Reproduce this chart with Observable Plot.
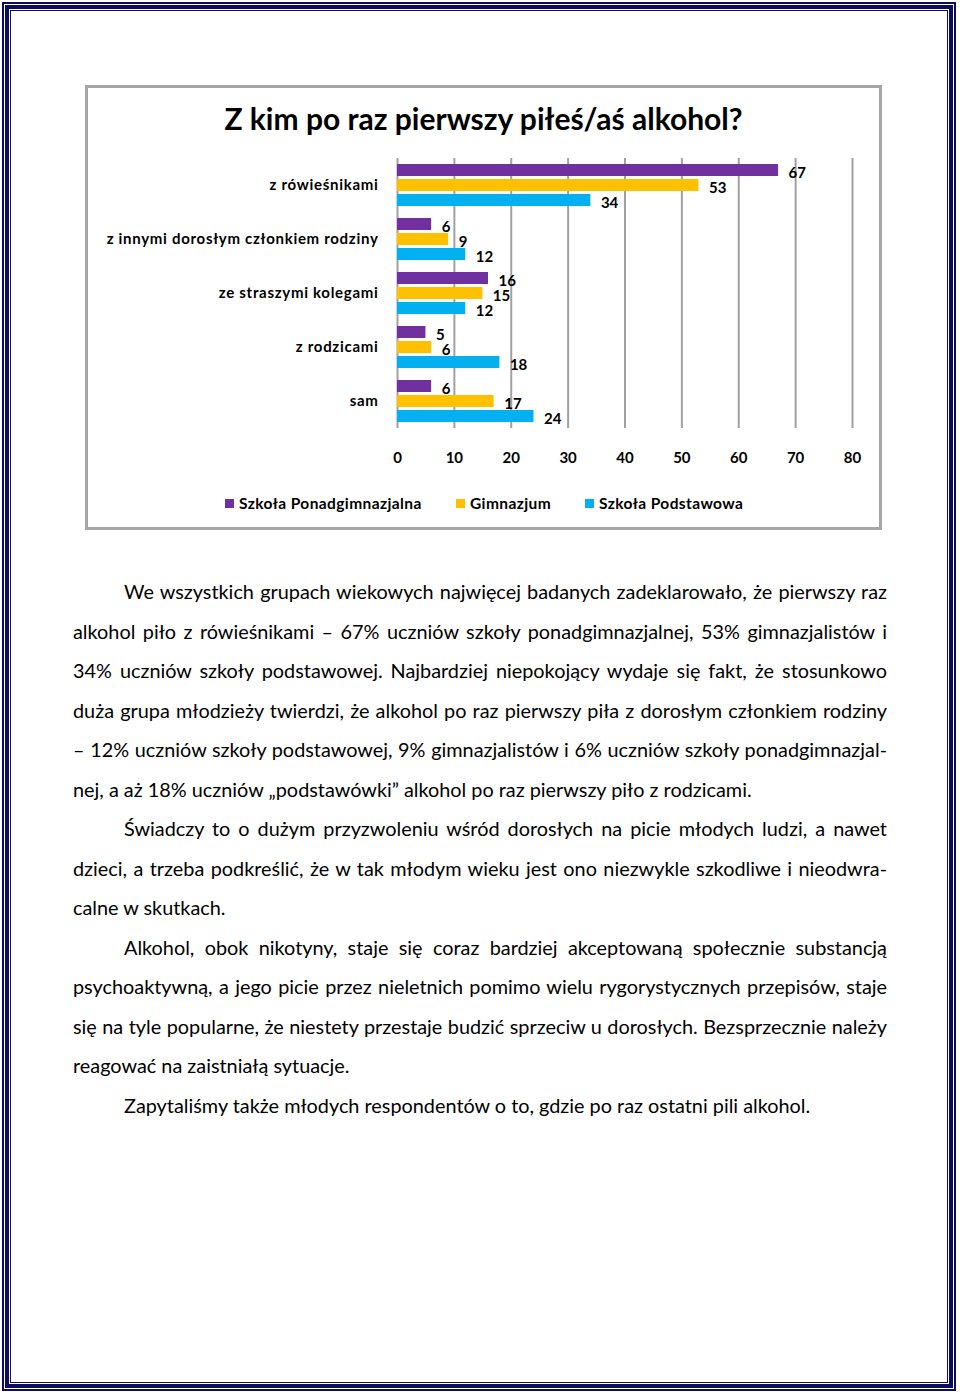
<!DOCTYPE html>
<html>
<head>
<meta charset="utf-8">
<script src="https://cdn.jsdelivr.net/npm/d3@7"></script>
<script src="https://cdn.jsdelivr.net/npm/@observablehq/plot@0.6"></script>
<style>
  html, body { margin: 0; padding: 0; background: #fff; }
  body { width: 960px; height: 1395px; position: relative; overflow: hidden; font-family: Lato, "Open Sans", sans-serif; color: #000; }
  .frame { position: absolute; box-sizing: border-box; border-style: solid; border-color: #0d0d5e; }
  #box { position: absolute; left: 85px; top: 85px; width: 797px; height: 445px; box-sizing: border-box; border: 3px solid #a6a6a6; }
  #title { position: absolute; left: 85px; width: 797px; top: 98px; text-align: center; font-size: 30px; font-weight: bold; line-height: 40px; }
  #chart { position: absolute; left: 88px; top: 140px; }
  #legend { position: absolute; left: 0; top: 493px; width: 960px; height: 20px; font-size: 15.5px; font-weight: bold; line-height: 20px; letter-spacing: 0.4px; }
  #legend .item { position: absolute; top: 0; display: flex; align-items: center; white-space: nowrap; }
  #legend .sw { width: 9px; height: 9px; margin-right: 5px; }
  #text { position: absolute; left: 73px; top: 572px; width: 814px; font-size: 19.85px; line-height: 39.5px; }
  #text .ln { white-space: nowrap; text-align: justify; text-align-last: justify; }
  #text .last { text-align: left; text-align-last: left; }
  #text .ind { padding-left: 51px; }
</style>
</head>
<body>
<div class="frame" style="left:2px;top:2px;width:954px;height:1389px;border-width:2px;"></div>
<div class="frame" style="left:5px;top:5px;width:948px;height:1383px;border-width:4px;"></div>
<div class="frame" style="left:10px;top:10px;width:938px;height:1373px;border-width:1.5px;"></div>

<div id="box"></div>
<div id="title">Z kim po raz pierwszy piłeś/aś alkohol?</div>
<div id="chart"></div>
<div id="legend"></div>
<div id="text"></div>

<script>
const categories = ["z rówieśnikami", "z innymi dorosłym członkiem rodziny", "ze straszymi kolegami", "z rodzicami", "sam"];
const seriesNames = ["Szkoła Ponadgimnazjalna", "Gimnazjum", "Szkoła Podstawowa"];
const ponadgimnazjalna = [67, 6, 16, 5, 6];
const gimnazjum = [53, 9, 15, 6, 17];
const podstawowa = [34, 12, 12, 18, 24];
const seriesColors = ["#7030A0", "#FFC000", "#00B0F0"];
const xTicks = [0, 10, 20, 30, 40, 50, 60, 70, 80];

const paragraphs = [
  [
    "We wszystkich grupach wiekowych najwięcej badanych zadeklarowało, że pierwszy raz",
    "alkohol piło z rówieśnikami – 67% uczniów szkoły ponadgimnazjalnej, 53% gimnazjalistów i",
    "34% uczniów szkoły podstawowej. Najbardziej niepokojący wydaje się fakt, że stosunkowo",
    "duża grupa młodzieży twierdzi, że alkohol po raz pierwszy piła z dorosłym członkiem rodziny",
    "– 12% uczniów szkoły podstawowej, 9% gimnazjalistów i 6% uczniów szkoły ponadgimnazjal-",
    "nej, a aż 18% uczniów „podstawówki” alkohol po raz pierwszy piło z rodzicami."
  ],
  [
    "Świadczy to o dużym przyzwoleniu wśród dorosłych na picie młodych ludzi, a nawet",
    "dzieci, a trzeba podkreślić, że w tak młodym wieku jest ono niezwykle szkodliwe i nieodwra-",
    "calne w skutkach."
  ],
  [
    "Alkohol, obok nikotyny, staje się coraz bardziej akceptowaną społecznie substancją",
    "psychoaktywną, a jego picie przez nieletnich pomimo wielu rygorystycznych przepisów, staje",
    "się na tyle popularne, że niestety przestaje budzić sprzeciw u dorosłych. Bezsprzecznie należy",
    "reagować na zaistniałą sytuacje."
  ],
  [
    "Zapytaliśmy także młodych respondentów o to, gdzie po raz ostatni pili alkohol."
  ]
];

const seriesValues = [ponadgimnazjalna, gimnazjum, podstawowa];
const rows = [];
categories.forEach((c, i) => {
  seriesNames.forEach((s, j) => rows.push({category: c, series: s, value: seriesValues[j][i]}));
});

const chart = Plot.plot({
  width: 791,
  height: 338,
  marginLeft: 309,
  marginRight: 27,
  marginTop: 18,
  marginBottom: 50,
  style: {fontFamily: "Lato, 'Open Sans', sans-serif", fontSize: "15px", fontWeight: "bold", background: "transparent", color: "#000", overflow: "visible"},
  x: {domain: [0, 80], ticks: xTicks, tickSize: 0, tickPadding: 24, label: null, axis: "bottom", tickFormat: d => String(d)},
  y: {domain: seriesNames, axis: null, paddingInner: 0.19, paddingOuter: 0.34},
  fy: {domain: categories, padding: 0, axis: "left", tickSize: 0, tickPadding: 19, label: null},
  color: {domain: seriesNames, range: seriesColors},
  facet: {data: rows, y: "category"},
  marks: [
    Plot.ruleX(xTicks, {x: d => d, stroke: "#a0a0a0", strokeWidth: 2}),
    Plot.barX(rows, {x: "value", y: "series", fill: "series"}),
    Plot.text(rows, {x: "value", y: "series", text: d => String(d.value), textAnchor: "start", dx: 10, dy: 3, fill: "#000"})
  ]
});
document.getElementById("chart").appendChild(chart);
// widen the category labels slightly (letter spacing as in the original)
chart.querySelectorAll("text").forEach(t => {
  if (categories.includes(t.textContent)) t.setAttribute("letter-spacing", "0.7");
});

const legend = document.getElementById("legend");
const legendLeft = [225, 456, 585];
seriesNames.forEach((s, j) => {
  const it = document.createElement("div");
  it.className = "item";
  it.style.left = legendLeft[j] + "px";
  const sw = document.createElement("span");
  sw.className = "sw";
  sw.style.background = seriesColors[j];
  const lb = document.createElement("span");
  lb.textContent = s;
  it.appendChild(sw); it.appendChild(lb);
  legend.appendChild(it);
});

const text = document.getElementById("text");
paragraphs.forEach(p => {
  p.forEach((line, k) => {
    const d = document.createElement("div");
    d.className = "ln" + (k === 0 ? " ind" : "") + (k === p.length - 1 ? " last" : "");
    d.textContent = line;
    text.appendChild(d);
  });
});
</script>
</body>
</html>
